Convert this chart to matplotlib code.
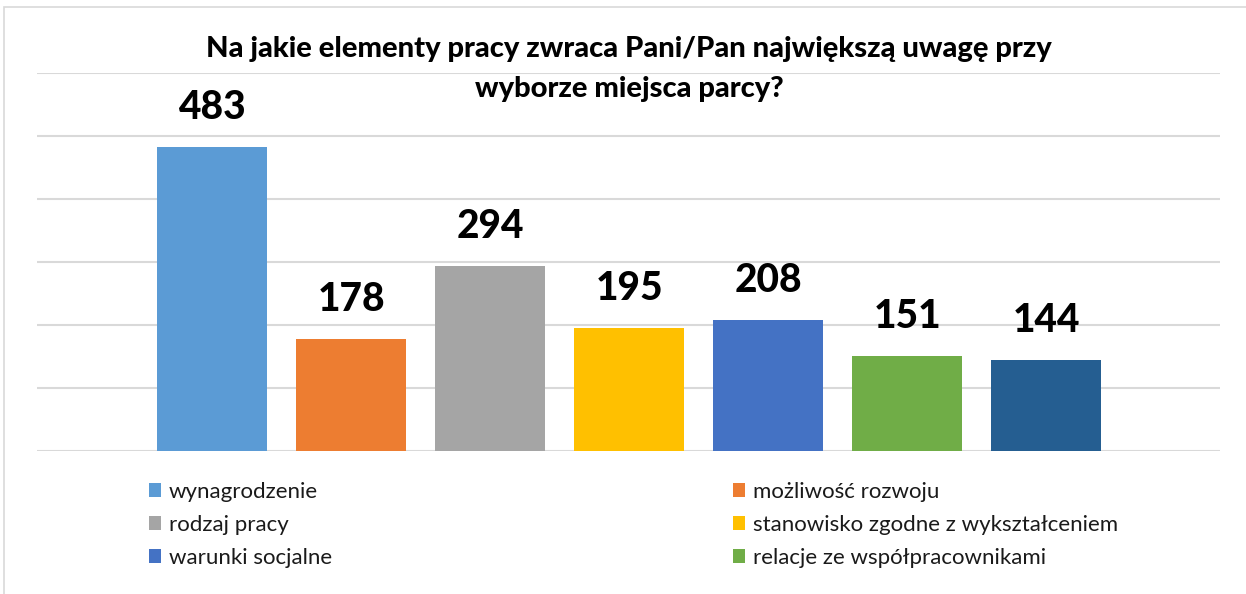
import matplotlib.pyplot as plt
from matplotlib.patches import Rectangle, Patch

# dane
kategorie = ['wynagrodzenie', 'możliwość rozwoju', 'rodzaj pracy',
             'stanowisko zgodne z wykształceniem', 'warunki socjalne',
             'relacje ze współpracownikami', 'inne']
wartosci = [483, 178, 294, 195, 208, 151, 144]
kolory = ['#5B9BD5', '#ED7D31', '#A5A5A5', '#FFC000', '#4472C4', '#70AD47', '#255E91']
tytul = ['Na jakie elementy pracy zwraca Pani/Pan największą uwagę przy',
         'wyborze miejsca parcy?']

plt.rcParams['font.family'] = ['Lato', 'DejaVu Sans']

W, H = 1246, 594
fig = plt.figure(figsize=(W / 100, H / 100), dpi=100)

# ramka wykresu (widoczna tylko u góry i z lewej)
fig.patches.append(Rectangle((4 / W, -0.1), 1.2, 1 - 7 / H + 0.1, transform=fig.transFigure,
                             fill=False, edgecolor='#d9d9d9', linewidth=1.2))

ax = fig.add_axes([37 / W, (H - 451) / H, (1220 - 37) / W, (451 - 73) / H])
x = list(range(len(wartosci)))
ax.bar(x, wartosci, width=0.79, color=kolory, zorder=2)
ax.set_xlim(-1.26, 7.25)
ax.set_ylim(0, 600)
ax.set_yticks(range(0, 601, 100))
ax.yaxis.grid(True, color='#d9d9d9', linewidth=1.5, zorder=0)
ax.set_xticks([])
ax.tick_params(left=False, labelleft=False)
for s in ax.spines.values():
    s.set_visible(False)

for xi, v in zip(x, wartosci):
    ax.annotate(str(v), (xi, v), xytext=(0, 15), textcoords='offset points',
                ha='center', va='bottom', fontsize=28, fontweight='black', color='black')

# tytuł w dwóch liniach
for linia, y in zip(tytul, [49, 89]):
    fig.text(629 / W, 1 - y / H, linia, ha='center', va='center', fontsize=21,
             fontweight='black', color='black')

# legenda: dwie kolumny po trzy pozycje (siódma pozycja nie mieści się)
uchwyty = [Patch(facecolor=c) for c in kolory]
for kol, (idx, x0) in enumerate([([0, 2, 4], 140), ([1, 3, 5], 724)]):
    leg = fig.legend([uchwyty[i] for i in idx], [kategorie[i] for i in idx],
                     loc='upper left', bbox_to_anchor=(x0 / W, 1 - 473 / H),
                     frameon=False, fontsize=16, handlelength=0.55, handleheight=0.6,
                     handletextpad=0.35, labelspacing=0.58, borderaxespad=0)
    for t in leg.get_texts():
        t.set_color('#1a1a1a')

fig.savefig('out.png', dpi=100)
